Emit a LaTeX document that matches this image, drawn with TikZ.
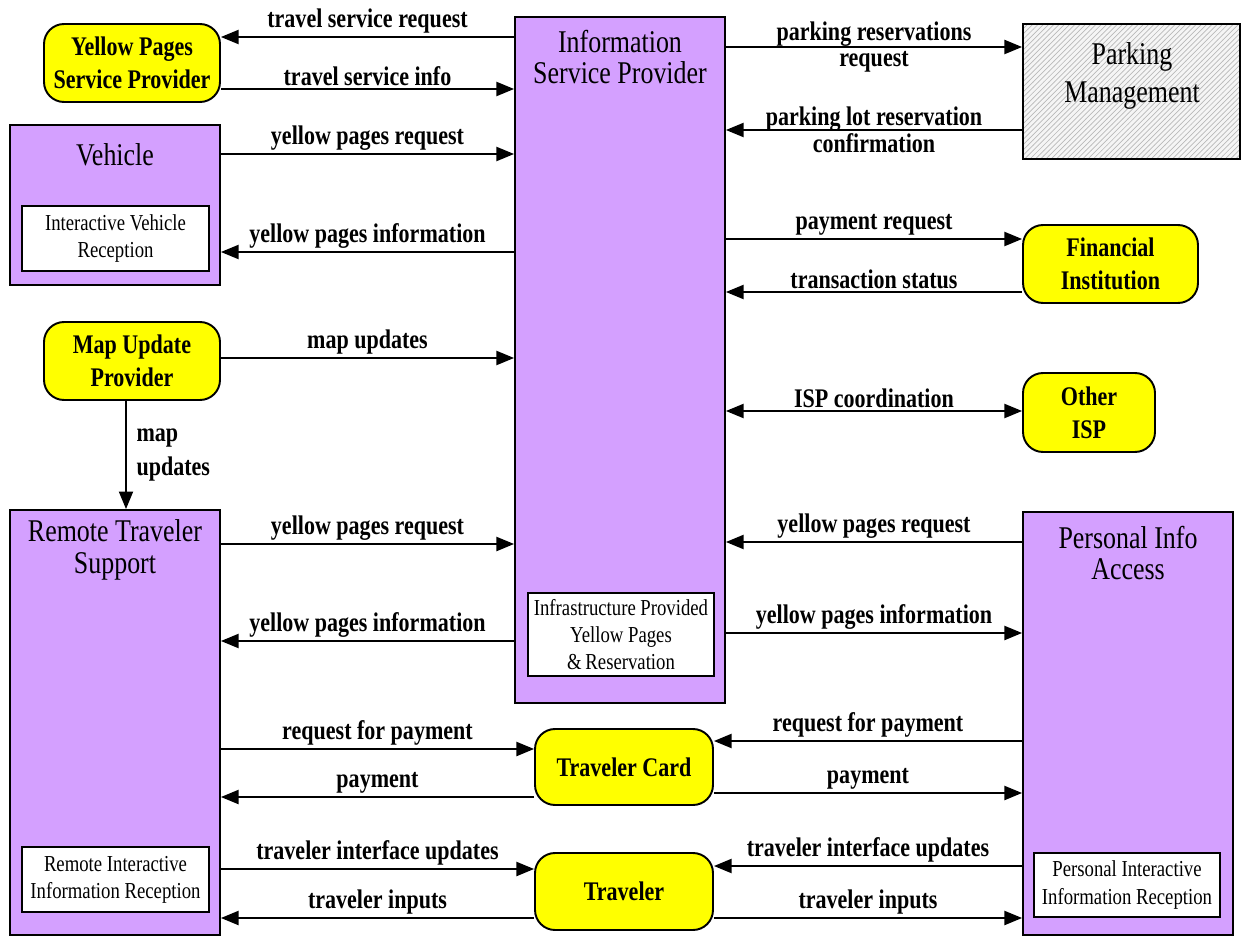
\documentclass[tikz,border=0pt]{standalone}
\usepackage{fontspec}
\setmainfont[FakeStretch=0.82]{Liberation Serif}
\usetikzlibrary{arrows.meta,patterns}
\definecolor{lilac}{RGB}{212,160,255}
\definecolor{canary}{RGB}{255,255,0}

\begin{document}
\begin{tikzpicture}[x=0.02cm,y=-0.02cm,
  sysbox/.style={draw,line width=1.1pt,fill=lilac,inner sep=0pt},
  termbox/.style={draw,line width=1.1pt,fill=canary,rounded corners=0.4cm,align=center,
    font=\fontsize{15.3}{18.7}\selectfont\bfseries,inner sep=0pt,
    minimum width=3.52cm,minimum height=1.56cm},
  subbox/.style={draw,line width=1pt,fill=white,align=center,
    font=\fontsize{13}{15.5}\selectfont,inner sep=0pt,minimum width=3.74cm,minimum height=1.3cm},
  title/.style={align=center,font=\fontsize{18}{18}\selectfont,inner sep=0pt},
  flow/.style={line width=1pt,-{Triangle[length=10pt,width=8pt]}},
  lab/.style={font=\fontsize{15.3}{15.3}\selectfont\bfseries,inner sep=1.5pt,align=center}]
\useasboundingbox (0,0) rectangle (1241,936);

% central provider
\node[sysbox,minimum width=4.2cm,minimum height=13.72cm] (isp) at (620,360) {};
\node[title] (ispt) at (620,57) {Information\\Service Provider};
\node[subbox,minimum width=3.72cm,minimum height=1.66cm] (ispin) at (621,634.5)
  {Infrastructure Provided\\Yellow Pages\\\&\,Reservation};

% left column
\node[termbox] (ypsp) at (132,63) {Yellow Pages\\Service Provider};
\node[sysbox,minimum width=4.2cm,minimum height=3.2cm] (veh) at (115,205) {};
\node[title] (veht) at (115,155) {Vehicle};
\node[subbox] (vehin) at (115.5,238.5) {Interactive Vehicle\\Reception};
\node[termbox] (mup) at (132,361) {Map Update\\Provider};
\node[sysbox,minimum width=4.2cm,minimum height=8.5cm] (rts) at (115,722.5) {};
\node[title] (rtst) at (115,550) {Remote Traveler\\Support};
\node[subbox] (rtsin) at (115.5,879.5) {Remote Interactive\\Information Reception};

% right column
\node[draw,line width=1.1pt,pattern=north east lines,pattern color=gray!55,
  preaction={fill=gray!8},minimum width=4.34cm,minimum height=2.7cm,inner sep=0pt] (pm) at (1131.5,91.5) {};
\node[title,font=\fontsize{18}{22}\selectfont] (pmt) at (1132,76) {Parking\\Management};
\node[termbox,minimum width=3.5cm] (fi) at (1110.5,264) {Financial\\Institution};
\node[termbox,minimum width=2.64cm,minimum height=1.58cm] (oisp) at (1089,412.5) {Other\\ISP};
\node[sysbox,minimum width=4.2cm,minimum height=8.46cm] (pia) at (1128,723.5) {};
\node[title] (piat) at (1128,553) {Personal Info\\Access};
\node[subbox,minimum width=3.72cm,minimum height=1.28cm] (piain) at (1127,885)
  {Personal Interactive\\Information Reception};

% traveler side
\node[termbox,minimum width=3.56cm,minimum height=1.52cm] (tc) at (624,767) {Traveler Card};
\node[termbox,minimum width=3.56cm,minimum height=1.54cm] (trav) at (624,891.5) {Traveler};

% flows on the left
\draw[flow] (isp.west |- 0,37) -- node[lab,above] {travel service request} (ypsp.east |- 0,37);
\draw[flow] (ypsp.east |- 0,89) -- node[lab,above] {travel service info} (isp.west |- 0,89);
\draw[flow] (veh.east |- 0,154) -- node[lab,above] {yellow pages request} (isp.west |- 0,154);
\draw[flow] (isp.west |- 0,252) -- node[lab,above] {yellow pages information} (veh.east |- 0,252);
\draw[flow] (mup.east |- 0,358) -- node[lab,above] {map updates} (isp.west |- 0,358);
\draw[flow] (mup.south -| 126,0) -- node[lab,right,align=left,xshift=4pt,
  font=\fontsize{15.3}{19.8}\selectfont\bfseries] {map\\updates} (rts.north -| 126,0);
\draw[flow] (rts.east |- 0,544) -- node[lab,above] {yellow pages request} (isp.west |- 0,544);
\draw[flow] (isp.west |- 0,641) -- node[lab,above] {yellow pages information} (rts.east |- 0,641);
\draw[flow] (rts.east |- 0,749) -- node[lab,above] {request for payment} (tc.west |- 0,749);
\draw[flow] (tc.west |- 0,797) -- node[lab,above] {payment} (rts.east |- 0,797);
\draw[flow] (rts.east |- 0,869) -- node[lab,above] {traveler interface updates} (trav.west |- 0,869);
\draw[flow] (trav.west |- 0,918) -- node[lab,above] {traveler inputs} (rts.east |- 0,918);

% flows on the right
\draw[flow] (isp.east |- 0,47) -- node[lab] {parking reservations\\request} (pm.west |- 0,47);
\draw[flow] (pm.west |- 0,130) -- node[lab] {parking lot reservation\\confirmation} (isp.east |- 0,130);
\draw[flow] (isp.east |- 0,239) -- node[lab,above] {payment request} (fi.west |- 0,239);
\draw[flow] (fi.west |- 0,292) -- node[lab,above] {transaction status} (isp.east |- 0,292);
\draw[flow,{Triangle[length=10pt,width=8pt]}-{Triangle[length=10pt,width=8pt]}] (isp.east |- 0,411) -- node[lab,above] {ISP coordination} (oisp.west |- 0,411);
\draw[flow] (pia.west |- 0,542) -- node[lab,above] {yellow pages request} (isp.east |- 0,542);
\draw[flow] (isp.east |- 0,633) -- node[lab,above] {yellow pages information} (pia.west |- 0,633);
\draw[flow] (pia.west |- 0,741) -- node[lab,above] {request for payment} (tc.east |- 0,741);
\draw[flow] (tc.east |- 0,793) -- node[lab,above] {payment} (pia.west |- 0,793);
\draw[flow] (pia.west |- 0,866) -- node[lab,above] {traveler interface updates} (trav.east |- 0,866);
\draw[flow] (trav.east |- 0,918) -- node[lab,above] {traveler inputs} (pia.west |- 0,918);
\end{tikzpicture}
\end{document}
